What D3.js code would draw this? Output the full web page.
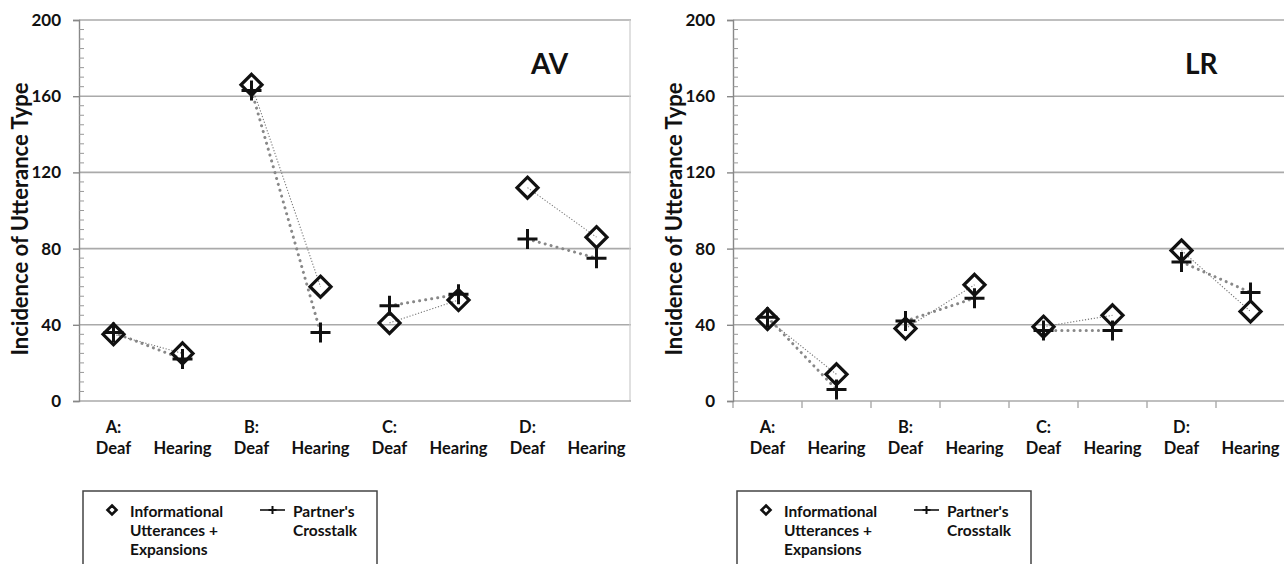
<!DOCTYPE html>
<html>
<head>
<meta charset="utf-8">
<script src="https://cdn.jsdelivr.net/npm/d3@7"></script>
<style>
  body { margin: 0; background: #fff; }
  svg text { font-family: Lato, "Open Sans", sans-serif; font-weight: 700; fill: #111; }
</style>
</head>
<body>
<svg id="chart" width="1284" height="564"></svg>
<script>
// categories along the x axis (group label, participant)
const groups = ['A:', '', 'B:', '', 'C:', '', 'D:', '']
const participants = ['Deaf', 'Hearing', 'Deaf', 'Hearing', 'Deaf', 'Hearing', 'Deaf', 'Hearing']
const yTicks = [0, 40, 80, 120, 160, 200]

// AV panel
const avInformational = [35, 25, 166, 60, 41, 53, 112, 86]
const avCrosstalk = [36, 22, 163, 36, 50, 56, 85, 75]
// LR panel
const lrInformational = [43, 14, 38, 61, 39, 45, 79, 47]
const lrCrosstalk = [44, 6, 42, 54, 37, 37, 73, 57]

const panels = [
  { title: 'AV', left: 79, right: 631, info: avInformational, cross: avCrosstalk, xTicks: false, border: true },
  { title: 'LR', left: 733, right: 1285, info: lrInformational, cross: lrCrosstalk, xTicks: true, border: false }
]

const svg = d3.select('#chart')
const plotTop = 20, plotBottom = 401

function diamondPath(r) {
  return `M0,${-r}L${r},0L0,${r}L${-r},0Z`
}
function plusPath(r) {
  return `M${-r},0H${r}M0,${-r}V${r}`
}

panels.forEach(p => {
  const g = svg.append('g')
  const idx = d3.range(participants.length)
  const x = d3.scaleBand().domain(idx).range([p.left, p.right])
  const y = d3.scaleLinear().domain([0, 200]).range([plotBottom, plotTop])

  // gridlines
  g.append('g').selectAll('line')
    .data(yTicks.filter(t => t > 0))
    .join('line')
    .attr('x1', p.left).attr('x2', p.right)
    .attr('y1', d => y(d)).attr('y2', d => y(d))
    .attr('stroke', '#aaa').attr('stroke-width', 1.6)

  if (p.border) {
    g.append('line')
      .attr('x1', p.right - 1).attr('x2', p.right - 1)
      .attr('y1', plotTop).attr('y2', plotBottom)
      .attr('stroke', '#ccc').attr('stroke-width', 1.2)
  }

  // x axis line
  g.append('line')
    .attr('x1', p.left).attr('x2', p.right)
    .attr('y1', plotBottom).attr('y2', plotBottom)
    .attr('stroke', '#aaa').attr('stroke-width', 1.6)

  if (p.xTicks) {
    g.append('g').selectAll('line')
      .data(d3.range(participants.length + 1))
      .join('line')
      .attr('x1', d => p.left + d * x.bandwidth())
      .attr('x2', d => p.left + d * x.bandwidth())
      .attr('y1', plotBottom).attr('y2', plotBottom + 7)
      .attr('stroke', '#aaa').attr('stroke-width', 1.4)
  }

  // y axis
  const yAxis = g.append('g').attr('transform', `translate(${p.left},0)`)
    .call(d3.axisLeft(y).tickValues(yTicks).tickSize(6).tickPadding(12))
  yAxis.select('.domain').attr('stroke', '#888').attr('stroke-width', 1.4)
  yAxis.selectAll('.tick line').attr('stroke', '#888').attr('stroke-width', 1.4)
  yAxis.selectAll('.tick text')
    .style('font-family', 'Lato, sans-serif').style('font-weight', 700)
    .style('font-size', '17px').attr('fill', '#111')

  // minor ticks inside the axis
  g.append('g').selectAll('line')
    .data(d3.range(0, 201, 5).filter(t => t % 40 !== 0))
    .join('line')
    .attr('x1', p.left).attr('x2', p.left + 5)
    .attr('y1', d => y(d)).attr('y2', d => y(d))
    .attr('stroke', '#999').attr('stroke-width', 1)

  // y title
  g.append('text')
    .attr('transform', `translate(${p.left - 51},219) rotate(-90)`)
    .attr('text-anchor', 'middle')
    .style('font-size', '22px')
    .text('Incidence of Utterance Type')

  // panel label
  g.append('text')
    .attr('x', p.right - 100).attr('y', 74)
    .attr('text-anchor', 'start')
    .style('font-size', '28px')
    .text(p.title)

  // x labels
  const cx = i => x(i) + x.bandwidth() / 2
  g.append('g').selectAll('text.grp')
    .data(idx.filter(i => groups[i]))
    .join('text').attr('class', 'grp')
    .attr('x', cx).attr('y', 433)
    .attr('text-anchor', 'middle').style('font-size', '16.5px')
    .text(i => groups[i])
  g.append('g').selectAll('text.part')
    .data(idx)
    .join('text').attr('class', 'part')
    .attr('x', cx).attr('y', 454)
    .attr('text-anchor', 'middle').style('font-size', '16.5px')
    .text(i => participants[i])

  // connecting lines within each group pair
  const pairs = [0, 2, 4, 6]
  const line = d3.line().x(d => cx(d.i)).y(d => y(d.v))
  pairs.forEach(s => {
    g.append('path')
      .attr('d', line([{ i: s, v: p.cross[s] }, { i: s + 1, v: p.cross[s + 1] }]))
      .attr('fill', 'none').attr('stroke', '#888').attr('stroke-width', 3)
      .attr('stroke-linecap', 'round').attr('stroke-dasharray', '0.1,6')
    g.append('path')
      .attr('d', line([{ i: s, v: p.info[s] }, { i: s + 1, v: p.info[s + 1] }]))
      .attr('fill', 'none').attr('stroke', '#777').attr('stroke-width', 1.1)
      .attr('stroke-dasharray', '1.2,1.8')
  })

  // markers
  g.append('g').selectAll('path')
    .data(p.cross)
    .join('path')
    .attr('transform', (d, i) => `translate(${cx(i)},${y(d)})`)
    .attr('d', plusPath(10))
    .attr('stroke', '#111').attr('stroke-width', 3).attr('fill', 'none')
  g.append('g').selectAll('path')
    .data(p.info)
    .join('path')
    .attr('transform', (d, i) => `translate(${cx(i)},${y(d)})`)
    .attr('d', diamondPath(10.5))
    .attr('stroke', '#111').attr('stroke-width', 3.2).attr('fill', 'none')

  // legend
  const lx = p.left + 4
  const lg = svg.append('g').attr('transform', `translate(${lx},491)`)
  lg.append('rect')
    .attr('x', 0).attr('y', 0).attr('width', 294).attr('height', 90)
    .attr('fill', '#fff').attr('stroke', '#444').attr('stroke-width', 1.5)
  lg.append('path')
    .attr('transform', 'translate(29,19)')
    .attr('d', diamondPath(4.5))
    .attr('stroke', '#111').attr('stroke-width', 2.6).attr('fill', 'none')
  const infoLines = ['Informational', 'Utterances +', 'Expansions']
  lg.selectAll('text.info').data(infoLines).join('text').attr('class', 'info')
    .attr('x', 47).attr('y', (d, i) => 26 + i * 19)
    .style('font-size', '15.5px').text(d => d)
  lg.append('line')
    .attr('x1', 177).attr('x2', 202).attr('y1', 19).attr('y2', 19)
    .attr('stroke', '#111').attr('stroke-width', 1.6)
  lg.append('path')
    .attr('transform', 'translate(189.5,19)')
    .attr('d', plusPath(4))
    .attr('stroke', '#111').attr('stroke-width', 2)
  const crossLines = ["Partner's", 'Crosstalk']
  lg.selectAll('text.cross').data(crossLines).join('text').attr('class', 'cross')
    .attr('x', 210).attr('y', (d, i) => 26 + i * 19)
    .style('font-size', '15.5px').text(d => d)
})
</script>
</body>
</html>
